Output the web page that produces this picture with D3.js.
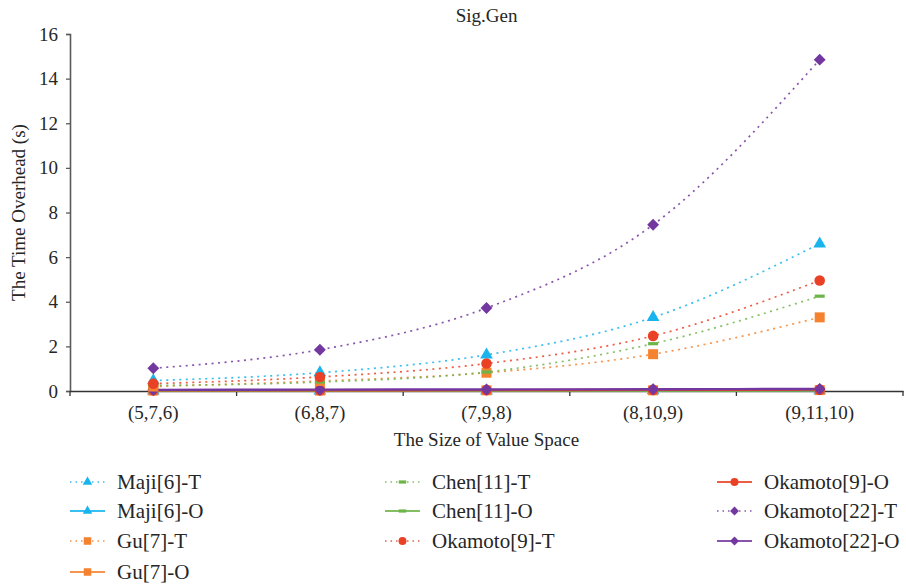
<!DOCTYPE html>
<html><head><meta charset="utf-8">
<script src="https://cdn.jsdelivr.net/npm/d3@7/dist/d3.min.js"></script>
<style>
body{margin:0;background:#fff;}
svg text{font-family:"Liberation Serif","Tinos","Times New Roman","DejaVu Serif",serif !important;fill:#262626;}
</style></head>
<body><svg id="c" width="906" height="588"></svg>
<script>
const categories = ["(5,7,6)","(6,8,7)","(7,9,8)","(8,10,9)","(9,11,10)"];
const yTicks = [0,2,4,6,8,10,12,14,16];
const majiT = [0.47, 0.82, 1.62, 3.3, 6.6];
const majiO = [0.01, 0.01, 0.01, 0.02, 0.02];
const guT = [0.2, 0.45, 0.82, 1.65, 3.3];
const guO = [0.02, 0.02, 0.03, 0.03, 0.04];
const chenT = [0.25, 0.4, 0.85, 2.12, 4.25];
const chenO = [0.01, 0.01, 0.02, 0.02, 0.03];
const oka9T = [0.33, 0.63, 1.23, 2.47, 4.95];
const oka9O = [0.03, 0.03, 0.04, 0.05, 0.06];
const oka22T = [1.02, 1.85, 3.72, 7.45, 14.85];
const oka22O = [0.05, 0.06, 0.07, 0.08, 0.09];
const seriesNames = ["Maji[6]-T","Maji[6]-O","Gu[7]-T","Gu[7]-O","Chen[11]-T","Chen[11]-O","Okamoto[9]-T","Okamoto[9]-O","Okamoto[22]-T","Okamoto[22]-O"];

const C = {cyan:"#18B4EE", orange:"#F4822F", green:"#6DB548", red:"#EA4126", purple:"#7337A0"};
const series = [
  {name:seriesNames[0], v:majiT, c:C.cyan, dash:true, m:"tri"},
  {name:seriesNames[1], v:majiO, c:C.cyan, dash:false, m:"tri"},
  {name:seriesNames[2], v:guT, c:C.orange, dash:true, m:"sq"},
  {name:seriesNames[3], v:guO, c:C.orange, dash:false, m:"sq"},
  {name:seriesNames[4], v:chenT, c:C.green, dash:true, m:"bar"},
  {name:seriesNames[5], v:chenO, c:C.green, dash:false, m:"bar"},
  {name:seriesNames[6], v:oka9T, c:C.red, dash:true, m:"circ"},
  {name:seriesNames[7], v:oka9O, c:C.red, dash:false, m:"circ"},
  {name:seriesNames[8], v:oka22T, c:C.purple, dash:true, m:"dia"},
  {name:seriesNames[9], v:oka22O, c:C.purple, dash:false, m:"dia"}
];

const FONT = '"Liberation Serif","Tinos","Times New Roman","DejaVu Serif",serif';
const svg = d3.select("#c");
const L=70, R=903, T=34, B=391;
const x = d3.scaleBand().domain(categories).range([L,R]);
const y = d3.scaleLinear().domain([0,16]).range([B,T]);
const axisColor="#5a5a5a";

// title
svg.append("text").attr("x",(L+R)/2).attr("y",22).attr("text-anchor","middle").attr("font-family",FONT).style("font-size","19px").text("Sig.Gen");

// y axis
const ya = svg.append("g").attr("transform",`translate(${L},0)`).call(d3.axisLeft(y).tickValues(yTicks).tickSize(4).tickPadding(8));
ya.attr("font-family",FONT);
ya.select(".domain").attr("stroke",axisColor).attr("stroke-width",1.6);
ya.selectAll(".tick line").attr("stroke",axisColor).attr("stroke-width",1.3);
ya.selectAll(".tick text").style("font-size","19px").attr("fill","#262626");

// x axis
const xa = svg.append("g").attr("transform",`translate(0,${B})`).call(d3.axisBottom(x).tickSize(0).tickPadding(15));
xa.attr("font-family",FONT);
xa.select(".domain").attr("stroke","#333").attr("stroke-width",1.5);
xa.selectAll(".tick text").style("font-size","19px").attr("fill","#262626");
const bounds = categories.map(c=>x(c)).concat([R]);
xa.selectAll(".bt").data(bounds).enter().append("line").attr("x1",d=>d).attr("x2",d=>d).attr("y1",0).attr("y2",5).attr("stroke","#333").attr("stroke-width",1.3);

svg.append("text").attr("transform",`translate(25,${(T+B)/2}) rotate(-90)`).attr("text-anchor","middle").attr("font-family",FONT).style("font-size","19px").text("The Time Overhead (s)");
svg.append("text").attr("x",(L+R)/2).attr("y",446).attr("text-anchor","middle").attr("font-family",FONT).style("font-size","19px").text("The Size of Value Space");

function marker(g, type, cx, cy, col, s){
  s = s||1;
  if(type==="tri") g.append("path").attr("d",d3.symbol().type(d3.symbolTriangle).size(70*s*s)()).attr("transform",`translate(${cx},${cy})`).attr("fill",col);
  else if(type==="sq") g.append("rect").attr("x",cx-5*s).attr("y",cy-5*s).attr("width",10*s).attr("height",10*s).attr("fill",col);
  else if(type==="bar") g.append("rect").attr("x",cx-5*s).attr("y",cy-1.6).attr("width",10*s).attr("height",3.2).attr("fill",col);
  else if(type==="circ") g.append("circle").attr("cx",cx).attr("cy",cy).attr("r",5.3*s).attr("fill",col);
  else if(type==="dia") g.append("rect").attr("x",-4.2*s).attr("y",-4.2*s).attr("width",8.4*s).attr("height",8.4*s).attr("transform",`translate(${cx},${cy}) rotate(45)`).attr("fill",col);
}

const cx = c => x(c)+x.bandwidth()/2;
const line = d3.line().x((d,i)=>cx(categories[i])).y(d=>y(d)).curve(d3.curveMonotoneX);
const order = [1,3,5,7,9,0,2,4,6,8];
const gLines = svg.append("g");
order.forEach(i=>{
  const s=series[i];
  gLines.append("path").attr("d",line(s.v)).attr("fill","none").attr("stroke",s.c)
    .attr("stroke-width",s.dash?1.7:2.4).attr("stroke-dasharray",s.dash?"2,4.5":null).attr("opacity",s.dash?0.85:1);
});
order.forEach(i=>{
  const s=series[i];
  s.v.forEach((v,j)=>marker(svg,s.m,cx(categories[j]),y(v),s.c));
});

// legend
const colX=[70,385,717], rowY=[482,511,541,572];
series.forEach((s,i)=>{
  const col = i<4?0:(i<7?1:2);
  const row = i<4?i:(i<7?i-4:i-7);
  const g = svg.append("g").attr("transform",`translate(${colX[col]},${rowY[row]})`);
  g.append("line").attr("x1",0).attr("x2",35).attr("y1",0).attr("y2",0).attr("stroke",s.c)
    .attr("stroke-width",s.dash?1.5:2).attr("stroke-dasharray",s.dash?"1.5,4":null).attr("opacity",0.85);
  marker(g,s.m,17.5,0,s.c,0.75);
  g.append("text").attr("x",47).attr("y",7).attr("font-family",FONT).style("font-size","21px").text(s.name);
});
</script></body></html>
